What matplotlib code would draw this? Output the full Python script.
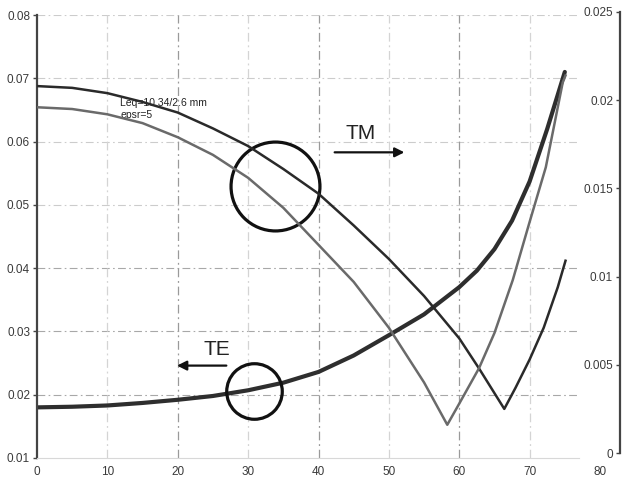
import matplotlib
matplotlib.use("Agg")
import matplotlib.pyplot as plt

plt.rcParams['font.family'] = ['Liberation Sans', 'DejaVu Sans']

# TE curve (left axis)
te_x = [0, 5, 10, 15, 20, 25, 30, 35, 40, 45, 50, 55, 60, 62.5, 65, 67.5, 70, 72.5, 75]
te_y = [0.0180, 0.0181, 0.0183, 0.0187, 0.0192, 0.0198, 0.0207, 0.0219, 0.0236, 0.0262,
        0.0294, 0.0327, 0.0370, 0.0396, 0.0430, 0.0475, 0.0537, 0.0620, 0.0710]

# TM curves (right axis)
tm1_x = [0, 5, 10, 15, 20, 25, 30, 35, 40, 45, 50, 55, 60, 62.8, 66.4, 68, 70, 72, 74, 75.1]
tm1_y = [0.0208, 0.0207, 0.0204, 0.0199, 0.0193, 0.0184, 0.0174, 0.0161, 0.0147, 0.0129,
         0.0110, 0.0089, 0.0065, 0.0048, 0.0025, 0.0037, 0.0053, 0.0071, 0.0094, 0.0109]

tm2_x = [0, 5, 10, 15, 20, 25, 30, 35, 40, 45, 50, 55, 58.3, 60, 62.8, 65, 67.6, 70, 72.3, 74.7, 75.1]
tm2_y = [0.0196, 0.0195, 0.0192, 0.0187, 0.0179, 0.0169, 0.0156, 0.0139, 0.0118, 0.0097,
         0.0071, 0.0040, 0.0016, 0.0028, 0.0048, 0.0068, 0.0098, 0.0131, 0.0162, 0.0210, 0.0214]

x_ticks = [0, 10, 20, 30, 40, 50, 60, 70, 80]
left_ticks = [0.01, 0.02, 0.03, 0.04, 0.05, 0.06, 0.07, 0.08]
left_labels = ['0.01', '0.02', '0.03', '0.04', '0.05', '0.06', '0.07', '0.08']
right_ticks = [0, 0.005, 0.01, 0.015, 0.02, 0.025]
right_labels = ['0', '0.005', '0.01', '0.015', '0.02', '0.025']

W, H = 623, 479
fig = plt.figure(figsize=(6.23, 4.79), dpi=100)
ax = fig.add_axes([37 / W, 21 / H, 563 / W, 443 / H])
ax2 = fig.add_axes([37 / W, 26 / H, 563 / W, 441 / H])
ax2.patch.set_alpha(0)

ax.set_xlim(0, 80)
ax.set_ylim(0.01, 0.08)
ax2.set_xlim(0, 80)
ax2.set_ylim(0, 0.025)

# grid (dash-dot, stops short of 80)
dashdot = (0, (7, 3, 1.5, 3))
for v in left_ticks[1:]:
    c = '#a8a8a8' if v in (0.02, 0.03, 0.04) else '#cccccc'
    ax.plot([0, 77], [v, v], color=c, lw=0.8, ls=dashdot, zorder=0)
for v in x_ticks[1:-1]:
    c = '#9a9a9a' if v in (20, 40, 60) else '#d4d4d4'
    ax.plot([v, v], [0.01, 0.08], color=c, lw=0.9, ls=dashdot, zorder=0)

ax.plot(te_x, te_y, color='#2e2e2e', lw=3.0, solid_capstyle='round')
ax2.plot(tm1_x, tm1_y, color='#2a2a2a', lw=1.8)
ax2.plot(tm2_x, tm2_y, color='#6a6a6a', lw=1.8)

# spines / ticks of the main axes
for s in ['top', 'right']:
    ax.spines[s].set_visible(False)
ax.spines['left'].set_color('#444444')
ax.spines['left'].set_linewidth(1.6)
ax.spines['bottom'].set_color('#d8d8d8')
ax.spines['bottom'].set_bounds(0, 77)
ax.set_xticks(x_ticks)
ax.set_xticklabels([str(v) for v in x_ticks])
ax.set_yticks(left_ticks)
ax.set_yticklabels(left_labels)
ax.tick_params(axis='x', length=0, pad=6, labelsize=8.5, labelcolor='#3a3a3a')
ax.tick_params(axis='y', length=3, width=1, color='#444444', pad=2,
               labelsize=8.5, labelcolor='#3a3a3a')

# right axis: spine placed past the plot, labels on its left side
for s in ['top', 'right', 'bottom']:
    ax2.spines[s].set_visible(False)
ax2.spines['left'].set_position(('axes', 583 / 563))
ax2.spines['left'].set_color('#444444')
ax2.spines['left'].set_linewidth(1.6)
ax2.set_xticks([])
ax2.set_yticks(right_ticks)
ax2.set_yticklabels(right_labels)
ax2.tick_params(axis='y', length=3, width=1, color='#444444', pad=2,
                labelsize=8.5, labelcolor='#3a3a3a')

# annotations
ax.text(11.8, 0.0661, 'Leq=10.34/2.6 mm', fontsize=7.5, color='#222222', va='center')
ax.text(11.8, 0.0642, 'epsr=5', fontsize=7.5, color='#222222', va='center')

ax.text(46.0, 0.0613, 'TM', fontsize=15, color='#222222', ha='center', va='center')
ax.annotate('', xy=(52.6, 0.0583), xytext=(41.9, 0.0583),
            arrowprops=dict(arrowstyle='-|>', color='#111111', lw=1.6, mutation_scale=14))
ax.text(25.6, 0.0272, 'TE', fontsize=15, color='#222222', ha='center', va='center')
ax.annotate('', xy=(19.5, 0.0246), xytext=(27.3, 0.0246),
            arrowprops=dict(arrowstyle='-|>', color='#111111', lw=1.6, mutation_scale=14))

ax.plot([33.8], [0.0530], 'o', ms=64, mfc='none', mec='#111111', mew=2.3, zorder=5)
ax.plot([30.9], [0.0206], 'o', ms=40, mfc='none', mec='#111111', mew=2.3, zorder=5)

fig.savefig('out.png', dpi=100)
